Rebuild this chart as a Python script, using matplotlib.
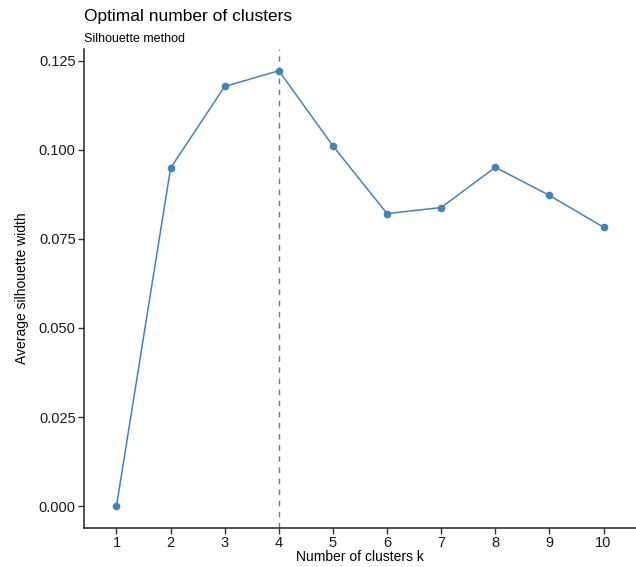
import matplotlib
matplotlib.use("Agg")
import matplotlib.pyplot as plt

plt.rcParams['font.family'] = ['Liberation Sans', 'DejaVu Sans']

# silhouette data
k_values = [1, 2, 3, 4, 5, 6, 7, 8, 9, 10]
sil_width = [0.0, 0.0949, 0.1178, 0.1222, 0.1011, 0.0821, 0.0838, 0.0951, 0.0872, 0.0783]
best_k = 4
y_ticks = [0.000, 0.025, 0.050, 0.075, 0.100, 0.125]

col = '#4682B4'

fig = plt.figure(figsize=(6.36, 5.67), dpi=100)
ax = fig.add_axes([0.1321, 0.0691, 0.8679, 0.8445])

ax.plot(k_values, sil_width, color=col, linewidth=1.1, marker='o', markersize=4.5)
ax.axvline(best_k, color=col, linewidth=1.0, linestyle=(0, (4, 4)))

ax.set_xlim(0.4, 10.6)
ymax = max(sil_width)
ax.set_ylim(-0.05 * ymax, 1.05 * ymax)
ax.set_xticks(k_values)
ax.set_xticklabels([str(k) for k in k_values])
ax.set_yticks(y_ticks)
ax.set_yticklabels(['%.3f' % v for v in y_ticks])

for s in ['top', 'right']:
    ax.spines[s].set_visible(False)
for s in ['left', 'bottom']:
    ax.spines[s].set_linewidth(1.1)
    ax.spines[s].set_color('#222222')
ax.tick_params(axis='both', length=4, width=1.0, color='#333333',
               labelsize=10.5, labelcolor='#1a1a1a', pad=2)

ax.set_xlabel('Number of clusters k', fontsize=10, labelpad=0)
ax.set_ylabel('Average silhouette width', fontsize=10, labelpad=7)

fig.text(84 / 636, 1 - 17 / 567, 'Optimal number of clusters', fontsize=12.5,
         ha='left', va='center')
fig.text(84 / 636, 1 - 39 / 567, 'Silhouette method', fontsize=9,
         ha='left', va='center')

fig.savefig('out.png', dpi=100)
